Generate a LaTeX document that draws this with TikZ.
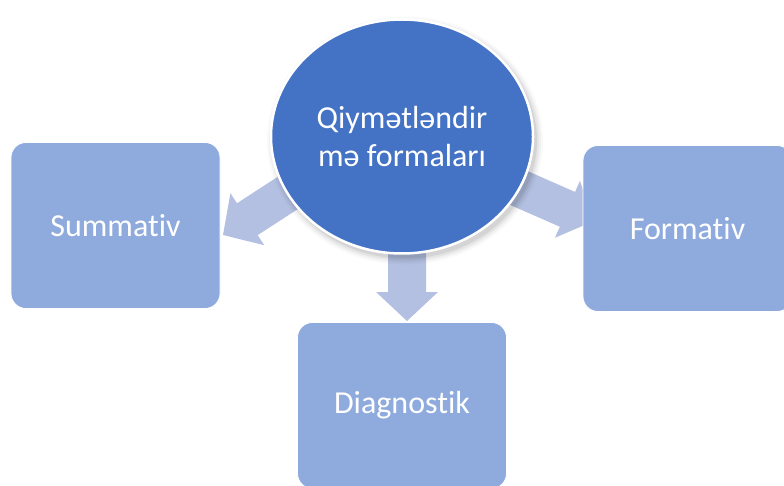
\documentclass[tikz,border=0pt]{standalone}
\usepackage{fontspec}
\setmainfont{Carlito}[RawFeature={-liga;-clig}]
\usetikzlibrary{shapes.geometric}
\definecolor{hub}{HTML}{4472C4}
\definecolor{leaf}{HTML}{8FAADC}
\definecolor{pointer}{HTML}{B4C0E1}
\begin{document}
\begin{tikzpicture}[x=1pt,y=-1pt,
  leafbox/.style={rounded corners=15pt, fill=leaf, draw=white, line width=0.8pt,
    minimum width=209pt, minimum height=166pt, inner sep=0pt,
    text=white, font=\fontsize{32}{38}\selectfont},
  hubnode/.style={ellipse, fill=hub, draw=white, line width=2.5pt,
    minimum width=262pt, minimum height=234pt, inner sep=0pt, align=center,
    text=white, font=\fontsize{32}{38}\selectfont},
  blockarrow/.style={fill=pointer, draw=none}]
\useasboundingbox (0,0) rectangle (784,486);
\clip (0,0) rectangle (784,486);

% arrow tips
\coordinate (tipS) at (223,235);
\coordinate (tipD) at (407,321);
\coordinate (tipF) at (594,221);

% block arrows (tip at origin, pointing along +x)
\foreach \tip/\ang in {tipS/213, tipD/-90, tipF/-23.7}{
  \begin{scope}[shift={(\tip)}, rotate=\ang]
    \fill[blockarrow] (-110,19) -- (-29,19) -- (-29,31) -- (0,0)
      -- (-29,-31) -- (-29,-19) -- (-110,-19) -- cycle;
  \end{scope}
}

% soft shadow of the central ellipse
\foreach \g/\o in {7/0.025,5/0.035,3/0.05,1/0.07}{
  \fill[black, opacity=\o] (405,140.5) ellipse [x radius=131+\g, y radius=117+\g];
}

\node[hubnode] (hub) at (402,136.5) {Qiymətləndir\\mə formaları};

\node[leafbox] (sum) at (115.5,225.5) {Summativ};
\node[leafbox] (form) at (687.5,228.5) {Formativ};
\node[leafbox] (diag) at (402,405.5) {Diagnostik};
\end{tikzpicture}
\end{document}
